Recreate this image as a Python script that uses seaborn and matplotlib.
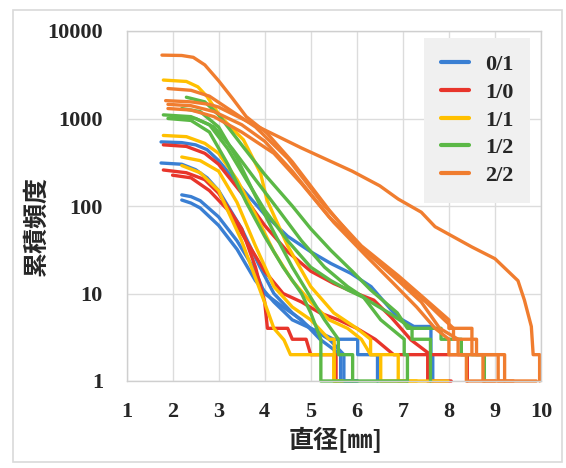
import numpy as np
import pandas as pd
import matplotlib
matplotlib.use("Agg")
import matplotlib.pyplot as plt
import seaborn as sns
from matplotlib.lines import Line2D
from matplotlib.patches import Rectangle
from matplotlib.ticker import NullLocator

# ---- categories / colours ----
classes = ["0/1", "1/0", "1/1", "1/2", "2/2"]
colors = ["#3a7fd3", "#e8352b", "#ffc000", "#5bb846", "#f07d2f"]

# ---- 0/1 (blue) curves: diameter [mm], cumulative frequency ----
b1_d = [1.75, 2.2, 2.5, 2.75, 3.0, 3.5, 4.0, 4.5, 5.0, 5.44, 5.87, 6.31, 6.88, 7.24, 7.61, 7.61, 7.65, 7.65]
b1_n = [540, 530, 500, 440, 330, 160, 80, 45, 30, 22, 17, 12, 5.4, 4.2, 4.2, 2, 2, 1]
b2_d = [1.75, 2.2, 2.5, 2.75, 3.0, 3.5, 3.9, 4.2, 4.6, 5.0, 5.5, 6.02, 6.02, 6.45, 6.45]
b2_n = [310, 300, 260, 210, 150, 55, 20, 10, 6, 4, 3, 3, 2, 2, 1]
b3_d = [2.2, 2.4, 2.6, 3.0, 3.4, 3.8, 4.0, 4.4, 4.8, 5.2, 5.65, 5.65, 6.0]
b3_n = [134, 128, 115, 75, 40, 18, 10, 7, 5, 3, 2, 1, 1]
b4_d = [2.2, 2.4, 2.6, 3.0, 3.4, 3.8, 4.2, 4.6, 5.0, 5.4, 5.72, 5.72, 6.02]
b4_n = [117, 108, 95, 60, 32, 14, 8, 5, 4, 3, 2, 1, 1]

# ---- 1/0 (red) ----
r1_d = [1.8, 2.3, 2.7, 3.0, 3.5, 4.0, 4.5, 5.0, 5.5, 6.0, 6.37, 6.74, 7.18, 7.6, 8.4, 8.4]
r1_n = [500, 480, 400, 300, 140, 60, 30, 18, 13, 10, 8.4, 5.4, 2.94, 2, 2, 1]
r2_d = [1.8, 2.3, 2.7, 3.0, 3.5, 3.8, 4.0, 4.06, 4.5, 4.6, 4.9, 5.0, 5.55, 5.55]
r2_n = [258, 240, 200, 140, 55, 20, 8, 4, 4, 3, 3, 2, 2, 1]
r3_d = [2.0, 2.4, 2.8, 3.2, 3.6, 4.0, 4.4, 4.8, 5.2, 5.6, 6.0, 6.4, 6.8, 7.54, 7.54, 8.05]
r3_n = [225, 210, 150, 90, 40, 18, 10, 8, 6, 5, 4, 3, 2, 2, 1, 1]

# ---- 1/1 (yellow) ----
y1_d = [1.8, 2.3, 2.55, 2.75, 3.04, 3.54, 3.91, 4.05, 4.5, 5.0, 5.5, 6.0, 6.3, 6.3, 6.9, 6.9, 7.3]
y1_n = [2750, 2650, 2300, 1780, 1050, 570, 237, 117, 35, 12, 6, 4, 3, 2, 2, 1, 1]
y2_d = [1.8, 2.3, 2.7, 3.0, 3.4, 3.8, 4.2, 4.6, 5.0, 5.4, 5.8, 6.1, 6.3, 6.52, 6.52, 7.98]
y2_n = [640, 620, 520, 400, 200, 80, 30, 14, 8, 5, 4, 3, 2, 2, 1, 1]
y3_d = [2.2, 2.6, 3.0, 3.4, 3.8, 4.2, 4.6, 5.0, 5.4, 5.51, 5.51, 5.7]
y3_n = [363, 330, 250, 110, 35, 12, 7, 5, 3, 3, 1, 1]
y4_d = [2.2, 2.6, 3.0, 3.5, 3.98, 4.2, 4.42, 4.56, 5.5, 5.5, 5.6]
y4_n = [290, 240, 150, 40, 8.4, 4, 2.94, 2, 2, 1, 1]

# ---- 1/2 (green) ----
g1_d = [2.3, 2.7, 3.0, 3.5, 4.0, 4.6, 5.0, 5.44, 5.9, 6.3, 6.88, 7.1, 7.83, 7.83, 8.27, 8.27, 8.77, 8.77]
g1_n = [1750, 1550, 1100, 500, 230, 100, 55, 31, 18, 11, 6, 4, 4, 3, 3, 2, 2, 1]
g2_d = [1.8, 2.4, 2.8, 3.2, 3.6, 4.0, 4.5, 5.0, 5.44, 5.8, 6.15, 6.52, 7.03, 7.03, 7.1, 7.1]
g2_n = [1100, 1050, 850, 450, 200, 90, 40, 20, 14, 11, 9, 5, 3, 2, 2, 1]
g3_d = [1.9, 2.4, 2.8, 3.2, 3.6, 4.0, 4.4, 4.8, 5.0, 5.22, 5.22, 7.1]
g3_n = [1000, 950, 700, 300, 110, 45, 20, 10, 6, 3, 1, 1]
g4_d = [2.2, 2.6, 3.0, 3.4, 3.8, 4.2, 4.6, 5.0, 5.3, 5.6, 5.6, 5.91, 5.91]
g4_n = [1300, 1200, 800, 350, 130, 50, 20, 9, 5, 3, 2, 2, 1]
g5_d = [2.0, 2.5, 2.9, 3.3, 3.8, 4.3, 4.8, 5.3, 5.8, 6.3, 6.7, 7.2, 7.2, 7.6, 7.6]
g5_n = [1050, 1000, 800, 450, 200, 90, 40, 20, 12, 8, 6, 4, 3, 3, 1]

# ---- 2/2 (orange) ----
o1_d = [1.85, 2.4, 2.8, 3.0, 3.5, 4.0, 4.8, 5.9, 6.5, 6.9, 7.4, 7.7, 8.5, 9.0, 9.5, 9.64, 9.79, 9.83, 9.97, 9.97]
o1_n = [1600, 1550, 1450, 1350, 1000, 740, 460, 250, 170, 120, 85, 58, 34, 25, 14, 8.4, 4.2, 2, 2, 1]
o2_d = [1.77, 2.2, 2.45, 2.7, 3.0, 3.3, 3.6, 4.05, 4.6, 5.4, 6.1, 6.9, 7.5, 7.9, 8.1, 8.1, 8.6, 8.6, 9.21, 9.21, 9.4]
o2_n = [5300, 5250, 5000, 4100, 2700, 1700, 1050, 680, 320, 90, 33, 15, 8, 5, 4, 3, 3, 2, 2, 1, 1]
o3_d = [1.9, 2.4, 2.8, 3.3, 3.8, 4.5, 5.3, 6.1, 6.9, 7.5, 8.0, 8.0, 8.5, 8.5, 9.07, 9.07, 9.2]
o3_n = [2200, 2100, 1800, 1200, 800, 350, 100, 35, 16, 8.5, 5, 4, 4, 2, 2, 1, 1]
o4_d = [1.9, 2.4, 2.9, 3.5, 4.0, 4.6, 5.4, 6.2, 6.9, 7.4, 7.8, 8.2, 8.2, 8.74, 8.74, 9.0]
o4_n = [1450, 1400, 1200, 850, 550, 250, 75, 30, 14, 8, 4, 3, 2, 2, 1, 1]
o5_d = [1.9, 2.4, 2.9, 3.5, 4.2, 4.8, 5.5, 6.2, 6.8, 7.3, 7.7, 8.0, 8.0, 8.38, 8.38, 9.9]
o5_n = [1300, 1250, 1050, 700, 400, 180, 65, 27, 13, 7, 4, 3, 2, 2, 1, 1]

x_ticks = [1, 2, 3, 4, 5, 6, 7, 8, 9, 10]
y_ticks = [1, 10, 100, 1000, 10000]
y_tick_labels = ["1", "10", "100", "1000", "10000"]

curves = [
    ("0/1", b1_d, b1_n), ("0/1", b2_d, b2_n), ("0/1", b3_d, b3_n), ("0/1", b4_d, b4_n),
    ("1/0", r1_d, r1_n), ("1/0", r2_d, r2_n), ("1/0", r3_d, r3_n),
    ("1/1", y1_d, y1_n), ("1/1", y2_d, y2_n), ("1/1", y3_d, y3_n), ("1/1", y4_d, y4_n),
    ("1/2", g1_d, g1_n), ("1/2", g2_d, g2_n), ("1/2", g3_d, g3_n), ("1/2", g4_d, g4_n), ("1/2", g5_d, g5_n),
    ("2/2", o1_d, o1_n), ("2/2", o2_d, o2_n), ("2/2", o3_d, o3_n), ("2/2", o4_d, o4_n), ("2/2", o5_d, o5_n),
]
rows = []
for i, (c, d, n) in enumerate(curves):
    for x, y in zip(d, n):
        rows.append({"cls": c, "curve": i, "d": x, "n": y})
df = pd.DataFrame(rows)

sns.set_theme(style="white")
plt.rcParams["font.family"] = ["Liberation Serif", "Noto Sans CJK JP", "DejaVu Sans"]

W, H = 566, 468
fig = plt.figure(figsize=(W / 100, H / 100), dpi=100)
fig.patch.set_facecolor("white")
L, R, T, B = 126.5, 541, 31, 381
ax = fig.add_axes([L / W, 1 - B / H, (R - L) / W, (B - T) / H])

palette = dict(zip(classes, colors))
sns.lineplot(data=df, x="d", y="n", hue="cls", units="curve", estimator=None,
             sort=False, hue_order=classes, palette=palette, linewidth=2.4,
             legend=False, ax=ax)
for ln in ax.lines:
    ln.set_clip_on(False)
    ln.set_solid_joinstyle("round")

ax.set_yscale("log")
ax.set_xlim(1, 10)
ax.set_ylim(1, 10000)
ax.set_xticks(x_ticks)
ax.set_xticklabels([str(v) for v in x_ticks])
ax.set_yticks(y_ticks)
ax.set_yticklabels(y_tick_labels)
ax.yaxis.set_minor_locator(NullLocator())
ax.tick_params(axis="both", length=0, labelsize=16)
ax.tick_params(axis="y", pad=17)
ax.tick_params(axis="x", pad=15)
for lab in ax.get_xticklabels() + ax.get_yticklabels():
    lab.set_fontweight("bold")
ax.grid(True, color="#dcdcdc", linewidth=1.0)
ax.set_axisbelow(True)
for s in ax.spines.values():
    s.set_color("#cfcfcf")
    s.set_linewidth(1.0)
ax.set_xlabel("")
ax.set_ylabel("")

handles = [Line2D([0], [0], color=c, lw=3) for c in colors]
leg = ax.legend(handles, classes, loc="upper left", bbox_to_anchor=(0.718, 0.98),
                frameon=True, fancybox=False, facecolor="#f0f0f0", edgecolor="none",
                framealpha=1.0, handlelength=1.25, handletextpad=0.75,
                labelspacing=0.32, borderpad=0.75, borderaxespad=0.0,
                prop={"family": "Liberation Serif", "weight": "bold", "size": 16})

fig.text(37 / W, 1 - 226 / H, "累積頻度", rotation=90, ha="center", va="center",
         fontsize=18, fontweight="bold", family=["Noto Sans CJK JP"])
fig.text(336 / W, 1 - 440 / H, "直径[㎜]", ha="center", va="center",
         fontsize=18, fontweight="bold", family=["Noto Sans CJK JP", "DejaVu Sans"])

fig.patches.append(Rectangle((13 / W, 6 / H), 549 / W, 452 / H, transform=fig.transFigure,
                             fill=False, edgecolor="#d9d9d9", linewidth=1.2))

fig.savefig("out.png", dpi=100)
